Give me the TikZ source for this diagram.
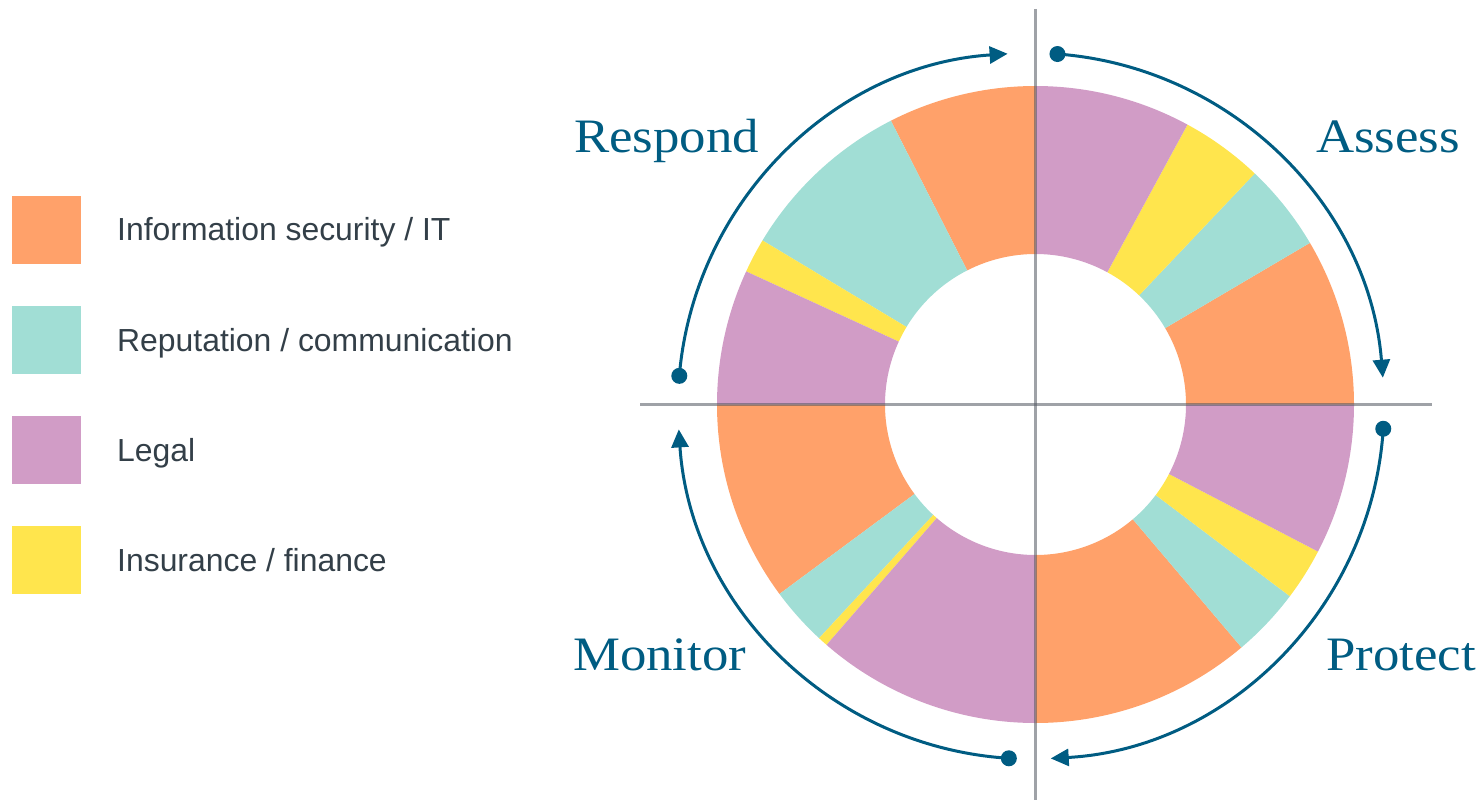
\documentclass[tikz,border=0pt]{standalone}
\usepackage{fontspec}
\setmainfont{Liberation Sans}
\newfontfamily\labelfont[FakeStretch=1.1]{Liberation Serif}
\usetikzlibrary{arrows.meta}
\definecolor{cOrange}{RGB}{255,161,106}
\definecolor{cTeal}{RGB}{161,222,213}
\definecolor{cPurple}{RGB}{209,156,198}
\definecolor{cYellow}{RGB}{255,229,77}
\definecolor{cBlue}{RGB}{0,92,130}
\definecolor{cText}{RGB}{51,63,72}
\definecolor{cAxis}{RGB}{80,85,95}
\tikzset{
  legsq/.style={minimum width=69pt,minimum height=68pt,inner sep=0pt,draw=none},
  legtxt/.style={anchor=base west,inner sep=0pt,text=cText,font=\fontsize{31.9}{38}\selectfont},
  phase/.style={inner sep=0pt,text=cBlue,font=\labelfont\fontsize{48}{56}\selectfont},
  cyc/.style={draw=cBlue,line width=3pt,-{Triangle[length=18pt,width=17pt]}},
  axisline/.style={draw=cAxis,draw opacity=0.55,line width=3.5pt}
}
\newcommand{\seg}[3]{\fill[#3] (#1:150.5) arc[start angle=#1,end angle=#2,radius=150.5] -- (#2:318.5) arc[start angle=#2,end angle=#1,radius=318.5] -- cycle;}
\begin{document}
\begin{tikzpicture}[x=1pt,y=-1pt]
\useasboundingbox (0,0) rectangle (1483,802);
% donut
\begin{scope}[shift={(1035.5,404.5)},yscale=-1]
\seg{0}{30.5}{cOrange}
\seg{30.5}{46.5}{cTeal}
\seg{46.5}{61.5}{cYellow}
\seg{61.5}{90}{cPurple}
\seg{90}{117}{cOrange}
\seg{117}{149}{cTeal}
\seg{149}{155.3}{cYellow}
\seg{155.3}{180}{cPurple}
\seg{180}{216.5}{cOrange}
\seg{216.5}{227.2}{cTeal}
\seg{227.2}{229}{cYellow}
\seg{229}{270}{cPurple}
\seg{270}{310.3}{cOrange}
\seg{310.3}{323}{cTeal}
\seg{323}{332.5}{cYellow}
\seg{332.5}{360}{cPurple}
\end{scope}
% axes
\coordinate (vtop) at (1035.5,9);
\coordinate (vbot) at (1035.5,800);
\coordinate (hl) at (640,404.5);
\coordinate (hr) at (1432,404.5);
\draw[axisline] (vtop) -- (vbot);
\draw[axisline] (hl) -- (hr);
% cycle arcs
\begin{scope}[shift={(1031,406)},yscale=-1]
\coordinate (dA) at (85.7:353);
\coordinate (dB) at (-3.7:353);
\coordinate (dC) at (266.4:353);
\coordinate (dD) at (175.1:353);
\draw[cyc] (dA) arc[start angle=85.7,end angle=4.6,radius=353];
\draw[cyc] (dB) arc[start angle=-3.7,end angle=-86.8,radius=353];
\draw[cyc] (dC) arc[start angle=266.4,end angle=183.8,radius=353];
\draw[cyc] (dD) arc[start angle=175.1,end angle=93.8,radius=353];
\fill[cBlue] (dA) circle (8);
\fill[cBlue] (dB) circle (8);
\fill[cBlue] (dC) circle (8);
\fill[cBlue] (dD) circle (8);
\end{scope}
% phase labels
\node[phase,anchor=base west] (respond) at (574,153) {Respond};
\node[phase,anchor=base east] (assess) at (1460,153) {Assess};
\node[phase,anchor=base west] (monitor) at (573,670) {Monitor};
\node[phase,anchor=base east] (protect) at (1476,670.5) {Protect};
% legend
\node[legsq,fill=cOrange,anchor=north west] (sq1) at (12,196) {};
\node[legsq,fill=cTeal,anchor=north west] (sq2) at (12,306) {};
\node[legsq,fill=cPurple,anchor=north west] (sq3) at (12,416) {};
\node[legsq,fill=cYellow,anchor=north west] (sq4) at (12,526) {};
\node[legtxt] (t1) at (117,241) {Information security / IT};
\node[legtxt] (t2) at (117,351) {Reputation / communication};
\node[legtxt] (t3) at (117,461) {Legal};
\node[legtxt] (t4) at (117,571) {Insurance / finance};
\end{tikzpicture}
\end{document}
